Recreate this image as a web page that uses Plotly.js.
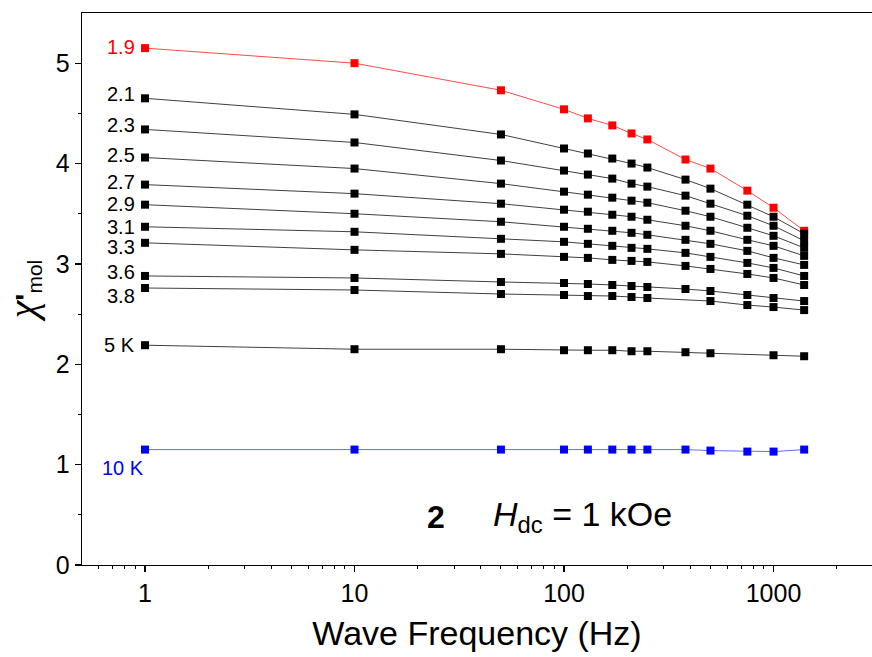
<!DOCTYPE html>
<html>
<head>
<meta charset="utf-8">
<script src="https://cdn.plot.ly/plotly-3.0.1.min.js"></script>
<style>html,body{margin:0;padding:0;background:#fff;overflow:hidden}#chart{width:872px;height:657px}</style>
</head>
<body>
<div id="chart"></div>
<script>
// Frequencies (Hz)
const freq = [1, 10, 50, 100, 130, 170, 210, 250, 380, 500, 750, 1000, 1400];
// Temperature labels
const tempLabels = ["1.9", "2.1", "2.3", "2.5", "2.7", "2.9", "3.1", "3.3", "3.6", "3.8", "5 K", "10 K"];
// chi' values per temperature
const t19 = [5.15, 5.00, 4.73, 4.54, 4.45, 4.38, 4.30, 4.24, 4.04, 3.95, 3.73, 3.56, 3.33];
const t21 = [4.65, 4.49, 4.29, 4.15, 4.10, 4.05, 4.00, 3.96, 3.84, 3.75, 3.59, 3.47, 3.30];
const t23 = [4.34, 4.21, 4.03, 3.93, 3.89, 3.85, 3.80, 3.77, 3.68, 3.60, 3.48, 3.38, 3.23];
const t25 = [4.06, 3.95, 3.80, 3.72, 3.69, 3.66, 3.63, 3.61, 3.53, 3.47, 3.36, 3.28, 3.16];
const t27 = [3.79, 3.70, 3.60, 3.54, 3.52, 3.49, 3.47, 3.44, 3.38, 3.33, 3.24, 3.18, 3.08];
const t29 = [3.59, 3.50, 3.42, 3.37, 3.35, 3.33, 3.31, 3.29, 3.24, 3.20, 3.13, 3.06, 2.99];
const t31 = [3.37, 3.32, 3.25, 3.22, 3.20, 3.18, 3.16, 3.15, 3.11, 3.07, 3.01, 2.96, 2.88];
const t33 = [3.21, 3.14, 3.10, 3.07, 3.06, 3.04, 3.03, 3.02, 2.98, 2.95, 2.90, 2.86, 2.79];
const t36 = [2.88, 2.86, 2.82, 2.81, 2.80, 2.79, 2.78, 2.77, 2.75, 2.73, 2.69, 2.66, 2.63];
const t38 = [2.76, 2.74, 2.70, 2.69, 2.68, 2.68, 2.67, 2.66, null, 2.63, 2.59, 2.57, 2.54];
const t5  = [2.19, 2.15, 2.15, 2.14, 2.14, 2.14, 2.13, 2.13, 2.12, 2.11, null, 2.09, 2.08];
const t10 = [1.15, 1.15, 1.15, 1.15, 1.15, 1.15, 1.15, 1.15, 1.15, 1.14, 1.13, 1.13, 1.15];

const blackSeries = [t21, t23, t25, t27, t29, t31, t33, t36, t38, t5];
const blackLabels = tempLabels.slice(1, 11);

const traces = [];
traces.push({x: freq, y: t19, type: 'scatter', mode: 'lines+markers', name: tempLabels[0],
  line: {color: '#ff4a4a', width: 1}, marker: {symbol: 'square', size: 8, color: '#ff0000'}, connectgaps: true});
traces.push({x: freq, y: t10, type: 'scatter', mode: 'lines+markers', name: tempLabels[11],
  line: {color: '#6a6aff', width: 1}, marker: {symbol: 'square', size: 8, color: '#0000ff'}, connectgaps: true});
blackSeries.forEach((s, i) => {
  traces.push({x: freq, y: s, type: 'scatter', mode: 'lines+markers', name: blackLabels[i],
    line: {color: '#404040', width: 1}, marker: {symbol: 'square', size: 8, color: '#000000'}, connectgaps: true});
});

const font = 'Arial, "Liberation Sans", sans-serif';
const annotations = [];
const allSeries = [t19].concat(blackSeries).concat([t10]);
const labelShift = {"1.9": 1, "2.1": 4, "2.3": 4, "2.5": 3, "2.7": 3, "2.9": 1, "3.1": 0, "3.3": -4, "3.6": 4, "3.8": -8, "5 K": 0, "10 K": -18};
allSeries.forEach((s, i) => {
  const lab = tempLabels[i];
  const color = i === 0 ? '#ff0000' : (lab === '10 K' ? '#0000ff' : '#000000');
  annotations.push({x: Math.log10(freq[0]), y: s[0], xref: 'x', yref: 'y', text: lab, showarrow: false,
    xanchor: 'right', yanchor: 'middle', xshift: lab === '10 K' ? 1 : -8, yshift: labelShift[lab],
    font: {family: font, size: 20, color: color}});
});
annotations.push({x: 0.448, y: 0.087, xref: 'paper', yref: 'paper', text: '<b>2</b>', showarrow: false,
  xanchor: 'center', yanchor: 'middle', font: {family: font, size: 32, color: '#000'}});
annotations.push({x: 0.518, y: 0.087, xref: 'paper', yref: 'paper', text: '<i>H</i><sub>dc</sub> = 1 kOe', showarrow: false,
  xanchor: 'left', yanchor: 'middle', font: {family: font, size: 34, color: '#000'}});

const layout = {
  width: 872, height: 657,
  margin: {l: 82, r: 0, t: 13, b: 92},
  paper_bgcolor: '#fff', plot_bgcolor: '#fff',
  showlegend: false,
  font: {family: font, color: '#000'},
  xaxis: {
    type: 'log', range: [-0.3007, 3.470],
    showgrid: false, zeroline: false,
    showline: true, linecolor: '#000', linewidth: 1.3, mirror: true,
    ticks: 'outside', ticklen: 6, tickwidth: 1.3, tickcolor: '#000',
    tickvals: [1, 10, 100, 1000], ticktext: ['1', '10', '100', '1000'],
    tickfont: {family: font, size: 25, color: '#000'},
    minor: {ticks: 'outside', ticklen: 3, tickwidth: 1, tickcolor: '#000',
      tickvals: [0.6,0.7,0.8,0.9,2,3,4,5,6,7,8,9,20,30,40,50,60,70,80,90,200,300,400,500,600,700,800,900,2000]},
    title: {text: 'Wave Frequency (Hz)', font: {family: font, size: 34, color: '#000'}, standoff: 15}
  },
  yaxis: {
    range: [0, 5.5],
    showgrid: false, zeroline: false,
    showline: true, linecolor: '#000', linewidth: 1.3, mirror: false,
    ticks: 'outside', ticklen: 6, tickwidth: 1.3, tickcolor: '#000',
    tickvals: [0, 1, 2, 3, 4, 5],
    tickfont: {family: font, size: 25, color: '#000'},
    minor: {ticks: 'outside', ticklen: 3, tickwidth: 1, tickcolor: '#000', tickvals: [0.5, 1.5, 2.5, 3.5, 4.5]},
    title: {text: '<span style="font-family:Liberation Serif;font-size:40px"><i>χ</i></span><span style="font-size:30px"><b>\'</b></span><sub>mol</sub>',
      font: {family: font, size: 30, color: '#000'}, standoff: 10}
  },
  annotations: annotations
};

Plotly.newPlot('chart', traces, layout, {displayModeBar: false, staticPlot: true});
</script>
</body>
</html>
